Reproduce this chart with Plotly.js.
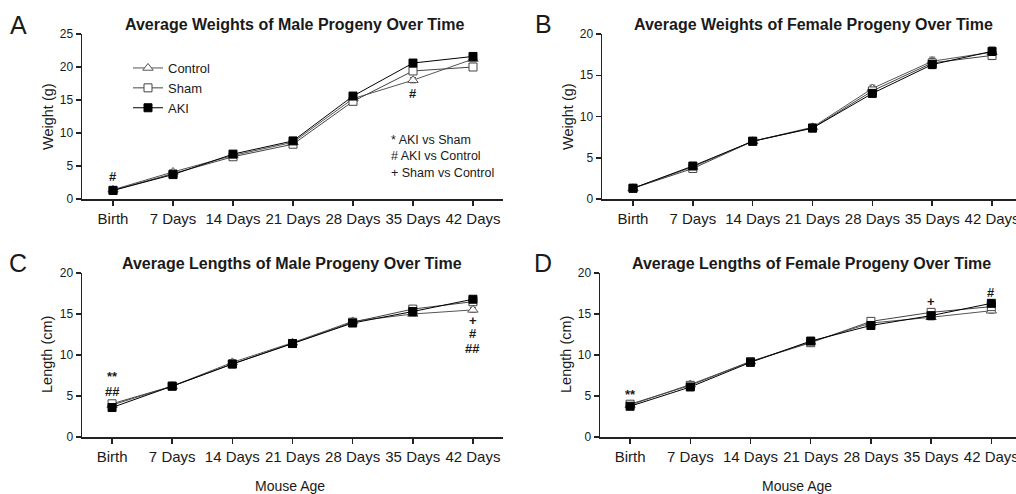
<!DOCTYPE html>
<html>
<head>
<meta charset="utf-8">
<script src="https://cdn.plot.ly/plotly-3.0.1.min.js"></script>
<style>html,body{margin:0;padding:0;background:#fff;}#chart{width:1016px;height:494px;}</style>
</head>
<body>
<div id="chart"></div>
<script>
// ---- data ----
const categories = ['Birth', '7 Days', '14 Days', '21 Days', '28 Days', '35 Days', '42 Days'];
const groupNames = ['Control', 'Sham', 'AKI'];

const weightMaleControl = [1.4, 4.1, 6.6, 8.6, 15.2, 18.0, 21.2];
const weightMaleSham    = [1.3, 3.8, 6.4, 8.3, 14.8, 19.4, 20.0];
const weightMaleAKI     = [1.3, 3.7, 6.8, 8.8, 15.6, 20.6, 21.6];

const weightFemaleControl = [1.3, 3.9, 7.0, 8.7, 13.4, 16.7, 17.8];
const weightFemaleSham    = [1.3, 3.7, 7.0, 8.6, 13.1, 16.5, 17.4];
const weightFemaleAKI     = [1.3, 4.0, 7.0, 8.6, 12.8, 16.3, 17.9];

const lengthMaleControl = [3.9, 6.2, 9.1, 11.5, 14.1, 15.0, 15.5];
const lengthMaleSham    = [4.05, 6.2, 8.9, 11.4, 14.0, 15.6, 16.5];
const lengthMaleAKI     = [3.6, 6.2, 8.9, 11.4, 13.9, 15.3, 16.8];

const lengthFemaleControl = [3.9, 6.4, 9.2, 11.6, 13.9, 14.6, 15.4];
const lengthFemaleSham    = [4.0, 6.3, 9.2, 11.5, 14.1, 15.2, 15.9];
const lengthFemaleAKI     = [3.75, 6.1, 9.1, 11.7, 13.6, 14.8, 16.3];

// approximate SEM
const weightMaleSEM   = [0.1, 0.2, 0.2, 0.3, 0.4, 0.4, 0.4];
const weightFemaleSEM = [0.1, 0.2, 0.2, 0.2, 0.4, 0.5, 0.5];
const lengthMaleSEM   = [0.1, 0.1, 0.2, 0.2, 0.2, 0.3, 0.3];
const lengthFemaleSEM = [0.1, 0.1, 0.2, 0.2, 0.2, 0.3, 0.3];

const panelTitles = [
  'Average Weights of Male Progeny Over Time',
  'Average Weights of Female Progeny Over Time',
  'Average Lengths of Male Progeny Over Time',
  'Average Lengths of Female Progeny Over Time'
];
const panelLetters = ['A', 'B', 'C', 'D'];
const yTitles = ['Weight (g)', 'Weight (g)', 'Length (cm)', 'Length (cm)'];
const xTitle = 'Mouse Age';
const sigLegend = ['* AKI vs Sham', '# AKI vs Control', '+ Sham vs Control'];

// significance marks: [panel, category, y, text]
const sigMarks = [
  [0, 'Birth', 3.4, '#'],
  [0, '35 Days', 16.0, '#'],
  [2, 'Birth', 7.4, '**'],
  [2, 'Birth', 5.6, '##'],
  [2, '42 Days', 14.2, '+'],
  [2, '42 Days', 12.6, '#'],
  [2, '42 Days', 10.8, '##'],
  [3, 'Birth', 5.2, '**'],
  [3, '35 Days', 16.5, '+'],
  [3, '42 Days', 17.6, '#']
];

// ---- styling ----
const W = 1016, H = 494;
const FONT = '"Liberation Sans", Arial, sans-serif';
const TXT = '#1a1a1a';
const px = v => v / W;
const py = v => 1 - v / H;

const styles = {
  Control: {symbol: 'triangle-up', color: 'white', size: 9, line: '#555'},
  Sham:    {symbol: 'square', color: 'white', size: 8, line: '#444'},
  AKI:     {symbol: 'square', color: '#000', size: 8, line: '#000'}
};

const panelData = [
  [weightMaleControl, weightMaleSham, weightMaleAKI, weightMaleSEM],
  [weightFemaleControl, weightFemaleSham, weightFemaleAKI, weightFemaleSEM],
  [lengthMaleControl, lengthMaleSham, lengthMaleAKI, lengthMaleSEM],
  [lengthFemaleControl, lengthFemaleSham, lengthFemaleAKI, lengthFemaleSEM]
];

const traces = [];
panelData.forEach((pd, p) => {
  const xa = p === 0 ? 'x' : 'x' + (p + 1);
  const ya = p === 0 ? 'y' : 'y' + (p + 1);
  groupNames.forEach((g, gi) => {
    const s = styles[g];
    traces.push({
      type: 'scatter', mode: 'lines+markers',
      x: categories, y: pd[gi], xaxis: xa, yaxis: ya,
      name: g, legendgroup: g, showlegend: p === 0,
      line: {color: s.line, width: 1},
      marker: {symbol: s.symbol, size: s.size, color: s.color, line: {color: s.line, width: 1}},
      error_y: {type: 'data', array: pd[3], visible: true, color: s.line, thickness: 1, width: 3},
      cliponaxis: false
    });
  });
});

function xAxis(d0, d1, r0, r1, anchor) {
  return {
    type: 'category', domain: [d0, d1], range: [r0, r1], anchor: anchor,
    showline: true, linecolor: '#222', linewidth: 1.5,
    ticks: 'outside', ticklen: 5, tickcolor: '#222', tickwidth: 1.5,
    showgrid: false, zeroline: false, tickangle: 0,
    tickfont: {family: FONT, size: 15, color: TXT}, fixedrange: true
  };
}
function yAxis(d0, d1, rmax, anchor) {
  return {
    domain: [d0, d1], range: [0, rmax], dtick: 5, anchor: anchor,
    showline: true, linecolor: '#222', linewidth: 1.5,
    ticks: 'outside', ticklen: 5, tickcolor: '#222', tickwidth: 1.5,
    showgrid: false, zeroline: false,
    tickfont: {family: FONT, size: 12, color: TXT}, fixedrange: true
  };
}

const topD = [py(199), py(34)];
const botD = [py(437), py(273)];

const annotations = [];
const titlePos = [[294, 25], [813, 24], [292, 263], [811, 263]];
const letterPos = [[18, 25], [543, 24], [18, 263], [543, 263]];
const yTitlePos = [[48, 117], [568, 117], [47, 355], [566, 355]];
for (let i = 0; i < 4; i++) {
  annotations.push({xref: 'paper', yref: 'paper', x: px(titlePos[i][0]), y: py(titlePos[i][1]),
    xanchor: 'center', yanchor: 'middle', showarrow: false,
    text: '<b>' + panelTitles[i] + '</b>', font: {family: FONT, size: 16, color: TXT}});
  annotations.push({xref: 'paper', yref: 'paper', x: px(letterPos[i][0]), y: py(letterPos[i][1]),
    xanchor: 'center', yanchor: 'middle', showarrow: false,
    text: panelLetters[i], font: {family: FONT, size: 25, color: TXT}});
  annotations.push({xref: 'paper', yref: 'paper', x: px(yTitlePos[i][0]), y: py(yTitlePos[i][1]),
    xanchor: 'center', yanchor: 'middle', showarrow: false, textangle: -90,
    text: yTitles[i], font: {family: FONT, size: 14.5, color: TXT}});
}
annotations.push({xref: 'paper', yref: 'paper', x: px(290), y: py(486), xanchor: 'center', yanchor: 'middle',
  showarrow: false, text: xTitle, font: {family: FONT, size: 14, color: TXT}});
annotations.push({xref: 'paper', yref: 'paper', x: px(797), y: py(486), xanchor: 'center', yanchor: 'middle',
  showarrow: false, text: xTitle, font: {family: FONT, size: 14, color: TXT}});
annotations.push({xref: 'paper', yref: 'paper', x: px(389), y: py(156), xanchor: 'left', yanchor: 'middle',
  align: 'left', showarrow: false, text: sigLegend.join('<br>'), font: {family: FONT, size: 12.5, color: TXT}});

sigMarks.forEach(m => {
  const p = m[0];
  annotations.push({
    xref: p === 0 ? 'x' : 'x' + (p + 1), yref: p === 0 ? 'y' : 'y' + (p + 1),
    x: categories.indexOf(m[1]), y: m[2], xanchor: 'center', yanchor: 'middle',
    showarrow: false, text: '<b>' + m[3] + '</b>', font: {family: FONT, size: 13, color: TXT}
  });
});

const layout = {
  width: W, height: H,
  margin: {l: 0, r: 0, t: 0, b: 0},
  paper_bgcolor: 'white', plot_bgcolor: 'white',
  font: {family: FONT, color: TXT},
  showlegend: true,
  legend: {x: px(128), y: py(53), xanchor: 'left', yanchor: 'top',
    font: {family: FONT, size: 13, color: TXT}, bgcolor: 'rgba(0,0,0,0)', itemwidth: 30,
    tracegroupgap: 0},
  xaxis:  xAxis(px(82), px(503), -0.517, 6.5, 'y'),
  yaxis:  yAxis(topD[0], topD[1], 25, 'x'),
  xaxis2: xAxis(px(602), 1, -0.518, 6.40, 'y2'),
  yaxis2: yAxis(topD[0], topD[1], 20, 'x2'),
  xaxis3: xAxis(px(82), px(503), -0.5, 6.5, 'y3'),
  yaxis3: yAxis(botD[0], botD[1], 20, 'x3'),
  xaxis4: xAxis(px(600), 1, -0.5, 6.41, 'y4'),
  yaxis4: yAxis(botD[0], botD[1], 20, 'x4'),
  annotations: annotations
};

Plotly.newPlot('chart', traces, layout, {displayModeBar: false, staticPlot: true});
</script>
</body>
</html>
